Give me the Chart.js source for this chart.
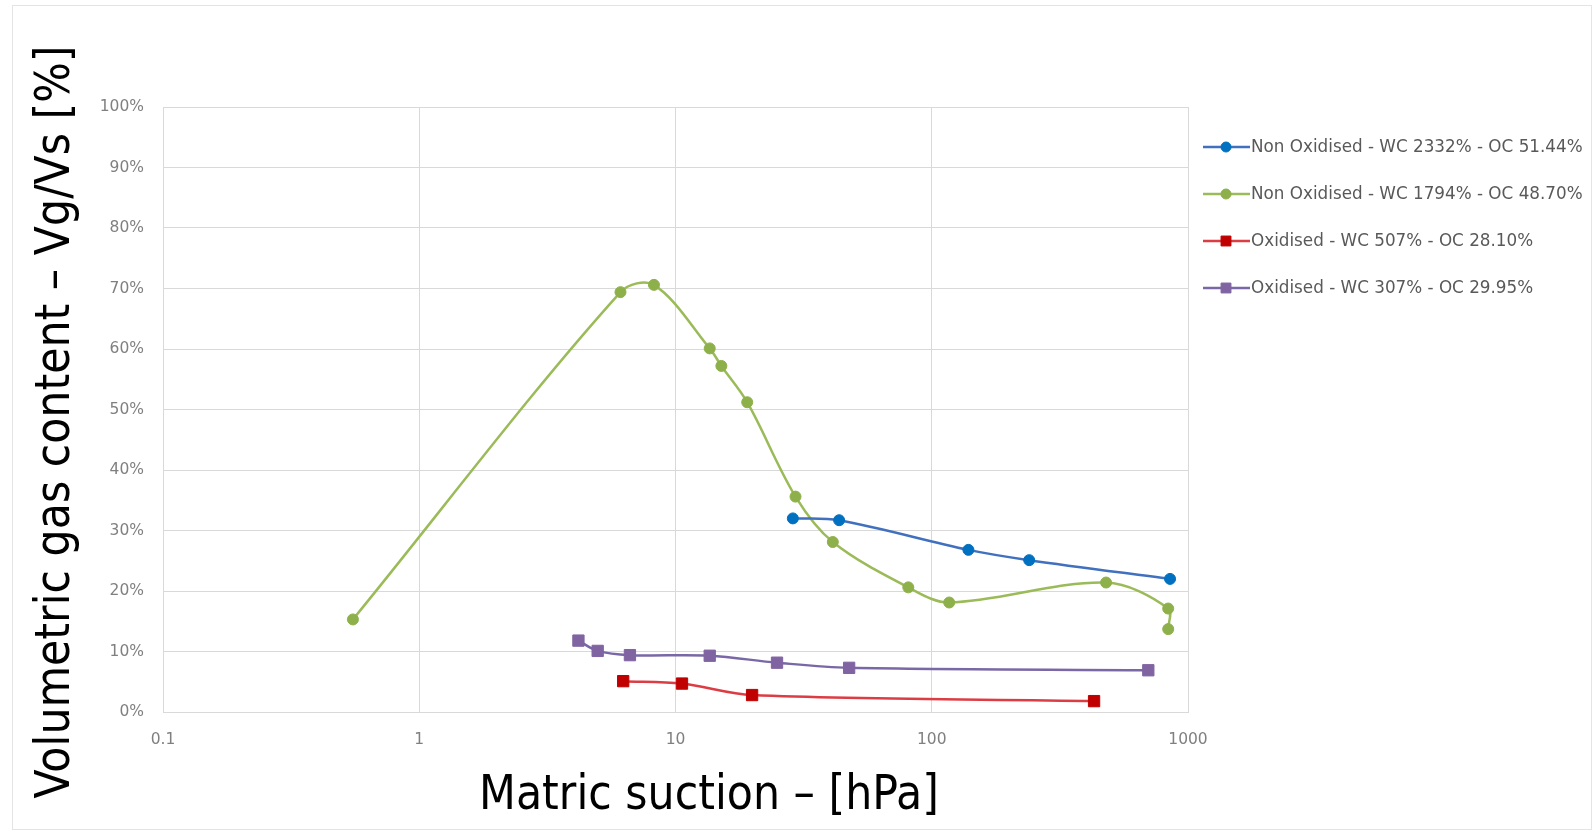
<!DOCTYPE html>
<html>
<head>
<meta charset="utf-8">
<script src="https://cdn.jsdelivr.net/npm/chart.js@4.4.1/dist/chart.umd.min.js"></script>
<style>
  body { margin: 0; background: #fff; }
  #wrap { position: relative; width: 1595px; height: 832px; }
  #frame { position: absolute; left: 12px; top: 5px; width: 1578px; height: 823px; border: 1px solid #e4e4e4; }
  #chart { position: absolute; left: 0; top: 0; }
</style>
</head>
<body>
<div id="wrap">
  <div id="frame"></div>
  <canvas id="chart" width="1595" height="832"></canvas>
</div>
<script>
// values (x = matric suction in hPa, y = gas content in %)
const blueX = [28.7, 43.5, 139, 240, 851];
const blueY = [32.0, 31.7, 26.8, 25.1, 22.0];
const greenX = [0.551, 6.1, 8.24, 13.6, 15.1, 19.05, 29.4, 41.1, 81, 117, 479, 837, 837];
const greenY = [15.3, 69.4, 70.6, 60.1, 57.2, 51.2, 35.6, 28.1, 20.6, 18.1, 21.4, 17.1, 13.7];
const redX = [6.25, 10.6, 19.9, 430];
const redY = [5.1, 4.7, 2.8, 1.8];
const purpleX = [4.18, 4.97, 6.64, 13.6, 24.9, 47.6, 700];
const purpleY = [11.8, 10.1, 9.4, 9.3, 8.15, 7.3, 6.9];

const seriesNames = [
  'Non Oxidised - WC 2332% - OC 51.44%',
  'Non Oxidised - WC 1794% - OC 48.70%',
  'Oxidised - WC 507% - OC 28.10%',
  'Oxidised - WC 307% - OC 29.95%'
];
const xTicks = [0.1, 1, 10, 100, 1000];
const yTicks = [0, 10, 20, 30, 40, 50, 60, 70, 80, 90, 100];
const xTitle = 'Matric suction \u2013 [hPa]';
const yTitle = 'Volumetric gas content \u2013 Vg/Vs [%]';

const pts = (xs, ys) => xs.map((x, i) => ({ x: x, y: ys[i] }));

const makeSet = (label, data, line, marker, style, r) => ({
  label: label,
  data: data,
  showLine: true,
  borderColor: line,
  backgroundColor: marker,
  borderWidth: 2.5,
  tension: 0.33,
  pointStyle: style,
  pointRadius: r,
  pointBackgroundColor: marker,
  pointBorderColor: marker,
  pointBorderWidth: 1
});

// titles and a line+marker legend, drawn on the canvas after the chart
const extras = {
  id: 'extras',
  afterDraw(chart) {
    const ctx = chart.ctx;
    ctx.save();
    ctx.fillStyle = '#000';
    ctx.font = '48px "DejaVu Sans"';
    ctx.textAlign = 'center';
    ctx.textBaseline = 'middle';

    ctx.save();
    ctx.translate(709, 797);
    ctx.scale(0.89, 1);
    ctx.fillText(xTitle, 0, 0);
    ctx.restore();

    ctx.save();
    ctx.translate(57, 422);
    ctx.rotate(-Math.PI / 2);
    ctx.scale(0.89, 1);
    ctx.fillText(yTitle, 0, 0);
    ctx.restore();

    // legend
    const rows = [147, 194, 241, 288];
    chart.data.datasets.forEach((ds, i) => {
      const y = rows[i];
      ctx.strokeStyle = ds.borderColor;
      ctx.lineWidth = 2.5;
      ctx.beginPath();
      ctx.moveTo(1203, y);
      ctx.lineTo(1250, y);
      ctx.stroke();
      ctx.fillStyle = ds.pointBackgroundColor;
      ctx.strokeStyle = ds.pointBorderColor;
      ctx.lineWidth = 1;
      Chart.helpers.drawPoint(ctx, {
        pointStyle: ds.pointStyle,
        radius: ds.pointStyle === 'rect' ? 7 : 5,
        rotation: 0,
        borderWidth: 1
      }, 1226, y);
      ctx.fillStyle = '#595959';
      ctx.font = '16.8px "DejaVu Sans"';
      ctx.textAlign = 'left';
      ctx.fillText(ds.label, 1251, y + 1);
    });
    ctx.restore();
  }
};

const tickFont = { family: '"DejaVu Sans"', size: 15.5 };

new Chart(document.getElementById('chart'), {
  type: 'scatter',
  data: {
    datasets: [
      makeSet(seriesNames[0], pts(blueX, blueY), '#4170BE', '#0070C0', 'circle', 5.5),
      makeSet(seriesNames[1], pts(greenX, greenY), '#9BBB59', '#8DB04A', 'circle', 5.5),
      makeSet(seriesNames[2], pts(redX, redY), '#DC3D44', '#C00000', 'rect', 8),
      makeSet(seriesNames[3], pts(purpleX, purpleY), '#7A68A6', '#8064A2', 'rect', 8)
    ]
  },
  options: {
    responsive: false,
    animation: false,
    devicePixelRatio: 1,
    layout: { padding: { left: 0, top: 107, right: 407, bottom: 80 } },
    plugins: { legend: { display: false }, tooltip: { enabled: false } },
    scales: {
      x: {
        type: 'logarithmic',
        min: 0.1,
        max: 1000,
        afterBuildTicks: s => { s.ticks = xTicks.map(v => ({ value: v })); },
        afterFit: s => { s.height = 40; },
        grid: { color: '#d9d9d9', drawTicks: false },
        border: { color: '#d9d9d9' },
        ticks: {
          callback: v => String(v),
          padding: 19,
          maxRotation: 0,
          autoSkip: false,
          color: '#808080',
          font: tickFont
        }
      },
      y: {
        min: 0,
        max: 100,
        afterBuildTicks: s => { s.ticks = yTicks.map(v => ({ value: v })); },
        afterFit: s => { s.width = 163; },
        grid: { color: '#d9d9d9', drawTicks: false },
        border: { color: '#d9d9d9' },
        ticks: {
          callback: v => v + '%',
          padding: 19,
          color: '#808080',
          font: tickFont
        }
      }
    }
  },
  plugins: [extras]
});
</script>
</body>
</html>
